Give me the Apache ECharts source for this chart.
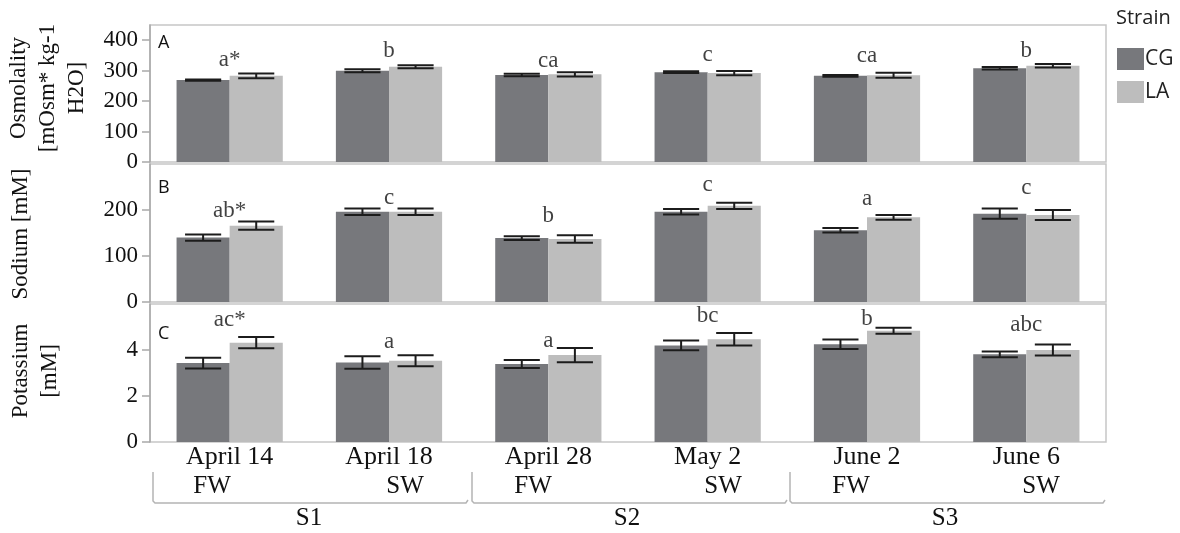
<!DOCTYPE html>
<html>
<head>
<meta charset="utf-8">
<script src="https://cdn.jsdelivr.net/npm/echarts@6/dist/echarts.min.js"></script>
<style>
  html, body { margin: 0; padding: 0; background: #fff; }
  #chart { width: 1180px; height: 533px; }
</style>
</head>
<body>
<div id="chart"></div>
<script>
// ---------------- data ----------------
const categories = ['April 14', 'April 18', 'April 28', 'May 2', 'June 2', 'June 6'];
const salinity = ['FW', 'SW', 'FW', 'SW', 'FW', 'SW'];
const stages = ['S1', 'S2', 'S3'];

const osmoCG    = [269, 300, 286, 295, 283, 308];
const osmoCGErr = [2, 5, 4, 3, 3, 4];
const osmoLA    = [283, 313, 288, 292, 285, 316];
const osmoLAErr = [8, 5, 7, 7, 8, 6];

const naCG    = [140, 196, 139, 196, 156, 192];
const naCGErr = [7, 7, 4, 6, 5, 11];
const naLA    = [166, 196, 137, 209, 184, 189];
const naLAErr = [9, 7, 8, 7, 5, 11];

const kCG    = [3.43, 3.46, 3.39, 4.20, 4.25, 3.81];
const kCGErr = [0.23, 0.27, 0.17, 0.21, 0.21, 0.13];
const kLA    = [4.32, 3.53, 3.78, 4.47, 4.84, 4.00];
const kLAErr = [0.24, 0.24, 0.31, 0.27, 0.13, 0.24];

const osmoLetters = ['a*', 'b', 'ca', 'c', 'ca', 'b'];
const osmoLetterY = [298, 328, 295, 315, 311, 328];
const naLetters   = ['ab*', 'c', 'b', 'c', 'a', 'c'];
const naLetterY   = [174, 202, 163, 230, 198, 224];
const kLetters    = ['ac*', 'a', 'a', 'bc', 'b', 'abc'];
const kLetterY    = [4.79, 3.83, 3.91, 5.0, 4.83, 4.57];

const yMax = [450, 300, 6];
const yTicks = [[0, 100, 200, 300, 400], [0, 100, 200], [0, 2, 4]];
const panelNames = ['A', 'B', 'C'];

// ---------------- styles ----------------
const SERIF = '"Liberation Serif", "Times New Roman", serif';
const SANS = '"Open Sans", "Noto Sans", sans-serif';
const CG_COLOR = '#77787c';
const LA_COLOR = '#bdbdbd';
const FRAME = '#c6c6c6';

const panels = [
  { cg: osmoCG, cgE: osmoCGErr, la: osmoLA, laE: osmoLAErr, letters: osmoLetters, letterY: osmoLetterY },
  { cg: naCG, cgE: naCGErr, la: naLA, laE: naLAErr, letters: naLetters, letterY: naLetterY },
  { cg: kCG, cgE: kCGErr, la: kLA, laE: kLAErr, letters: kLetters, letterY: kLetterY }
];

const grids = [
  { left: 150, right: 74, top: 25, height: 137 },
  { left: 150, right: 74, top: 164, height: 138 },
  { left: 150, right: 74, top: 304, height: 138 }
].map(g => Object.assign(g, { show: true, borderColor: FRAME, borderWidth: 1.5, containLabel: false }));

const xAxes = grids.map((g, i) => ({
  type: 'category', gridIndex: i, data: categories,
  axisLine: { show: false }, axisTick: { show: false },
  axisLabel: { show: i === 2, fontFamily: SERIF, fontSize: 26, color: '#111', margin: 2 }
}));

const yAxes = grids.map((g, i) => ({
  type: 'value', gridIndex: i, min: 0, max: yMax[i],
  splitLine: { show: false },
  axisLine: { show: true, lineStyle: { color: '#a9a9a9', width: 1.5 } },
  axisTick: { show: true, length: 8, customValues: yTicks[i], lineStyle: { color: '#a9a9a9', width: 1.5 } },
  axisLabel: { customValues: yTicks[i], fontFamily: SERIF, fontSize: 23, color: '#111', margin: 12 }
}));

function errSeries(name, means, errs, gi, sign) {
  return {
    name: name, type: 'custom', xAxisIndex: gi, yAxisIndex: gi, z: 5,
    data: means.map((m, i) => [i, m - errs[i], m + errs[i]]),
    encode: { x: 0, y: [1, 2] },
    renderItem: function (params, api) {
      const idx = api.value(0);
      const lo = api.coord([idx, api.value(1)]);
      const hi = api.coord([idx, api.value(2)]);
      const band = api.size([1, 0])[0];
      const x = lo[0] + sign * band / 6;
      const half = band / 3 * 0.34;
      const st = { stroke: '#1c1c1c', lineWidth: 2 };
      return {
        type: 'group',
        children: [
          { type: 'line', shape: { x1: x, y1: lo[1], x2: x, y2: hi[1] }, style: st },
          { type: 'line', shape: { x1: x - half, y1: lo[1], x2: x + half, y2: lo[1] }, style: st },
          { type: 'line', shape: { x1: x - half, y1: hi[1], x2: x + half, y2: hi[1] }, style: st }
        ]
      };
    }
  };
}

const series = [];
panels.forEach((p, gi) => {
  series.push({
    name: 'CG', type: 'bar', xAxisIndex: gi, yAxisIndex: gi, data: p.cg,
    barGap: '0%', barCategoryGap: '33.33%', itemStyle: { color: CG_COLOR }, z: 2
  });
  series.push({
    name: 'LA', type: 'bar', xAxisIndex: gi, yAxisIndex: gi, data: p.la,
    barGap: '0%', barCategoryGap: '33.33%', itemStyle: { color: LA_COLOR }, z: 2
  });
  series.push(errSeries('CG err', p.cg, p.cgE, gi, -1));
  series.push(errSeries('LA err', p.la, p.laE, gi, 1));
  series.push({
    name: 'letters', type: 'scatter', xAxisIndex: gi, yAxisIndex: gi, symbolSize: 0, z: 6,
    data: p.letterY.map((v, i) => [i, v]),
    label: {
      show: true, position: 'top', distance: 0,
      formatter: (d) => p.letters[d.dataIndex],
      fontFamily: SERIF, fontSize: 23, color: '#111'
    },
    emphasis: { disabled: true }, silent: true
  });
});

// ---------------- decorations ----------------
const graphics = [];
const panelLabelY = [43, 188, 334];
panelNames.forEach((t, i) => graphics.push({
  type: 'text', x: 158, y: panelLabelY[i],
  style: { text: t, font: '18px ' + SANS, fill: '#111', textAlign: 'left', textVerticalAlign: 'middle' }
}));

const yNames = [
  { text: 'Osmolality\n[mOsm* kg-1\nH2O]', x: 48, y: 88 },
  { text: 'Sodium [mM]', x: 21, y: 234 },
  { text: 'Potassium\n[mM]', x: 35, y: 371 }
];
yNames.forEach(n => graphics.push({
  type: 'text', x: n.x, y: n.y, rotation: Math.PI / 2,
  style: { text: n.text, font: '23px ' + SERIF, fill: '#111', textAlign: 'center', textVerticalAlign: 'middle', lineHeight: 29 }
}));

const salX = [212, 405, 533, 723, 851, 1041];
salinity.forEach((t, i) => graphics.push({
  type: 'text', x: salX[i], y: 486,
  style: { text: t, font: '25px ' + SERIF, fill: '#111', textAlign: 'center', textVerticalAlign: 'middle' }
}));
const stageX = [309, 627, 945];
stages.forEach((t, i) => graphics.push({
  type: 'text', x: stageX[i], y: 518,
  style: { text: t, font: '25px ' + SERIF, fill: '#111', textAlign: 'center', textVerticalAlign: 'middle' }
}));
const brackets = [[153, 468], [472, 787], [790, 1105]];
brackets.forEach(b => graphics.push({
  type: 'polyline',
  shape: { points: [[b[0], 472], [b[0], 501], [b[0] + 2, 503], [b[1] - 2, 503], [b[1], 500]] },
  style: { stroke: '#b4b4b4', lineWidth: 1.5, fill: null }
}));

const chart = echarts.init(document.getElementById('chart'), null, { renderer: 'canvas' });
chart.setOption({
  animation: false,
  backgroundColor: '#ffffff',
  title: { text: 'Strain', left: 1111, top: 3, textStyle: { fontFamily: SANS, fontSize: 20, fontWeight: 'normal', color: '#222' } },
  legend: {
    data: ['CG', 'LA'], orient: 'vertical', left: 1112, top: 43,
    itemWidth: 27, itemHeight: 22, itemGap: 11, icon: 'rect',
    textStyle: { fontFamily: SANS, fontSize: 21, color: '#222', padding: [0, 0, 0, -4] }
  },
  grid: grids,
  xAxis: xAxes,
  yAxis: yAxes,
  series: series,
  graphic: graphics
});
</script>
</body>
</html>
